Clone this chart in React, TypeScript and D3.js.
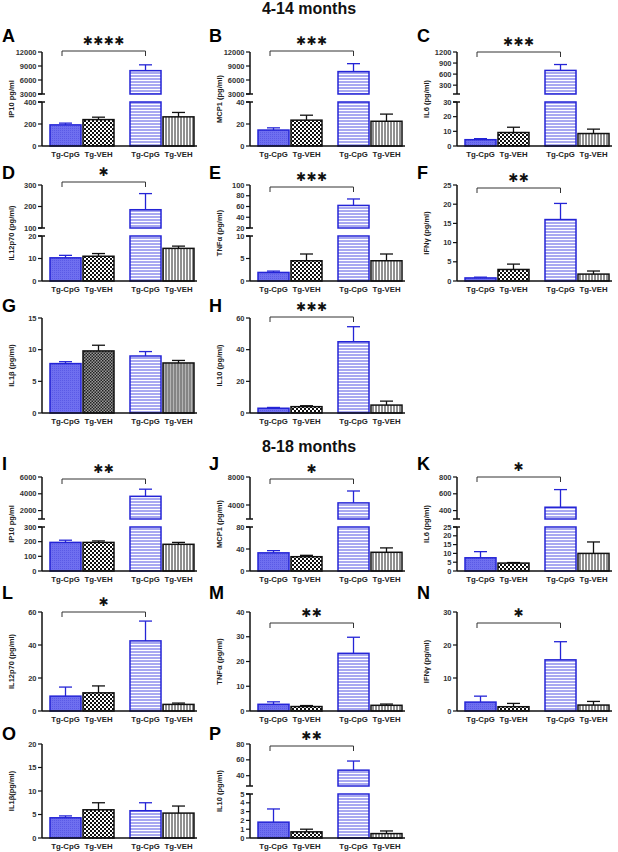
import React from 'react';
import * as d3 from 'd3';

const categories = ['Tg-CpG', 'Tg-VEH', 'Tg-CpG', 'Tg-VEH'];
const groups = ['young', 'old'];
const inner = ['cpg', 'veh'];
const titles = ['4-14 months', '8-18 months'];

// ---- 4-14 months (mean, upper error) ----
const ip10A = [192, 240, 8000, 265];
const ip10AErr = [208, 262, 9250, 305];
const mcp1B = [14.5, 23.5, 7800, 22.5];
const mcp1BErr = [16.5, 28, 9500, 29];
const il6C = [4.3, 9.2, 700, 8.5];
const il6CErr = [5, 12.8, 860, 11.5];
const il12D = [10.3, 11, 185, 14.5];
const il12DErr = [11.4, 12.2, 260, 15.5];
const tnfE = [1.9, 4.5, 62, 4.5];
const tnfEErr = [2.2, 6, 74, 6];
const ifnF = [0.8, 3, 16, 1.8];
const ifnFErr = [1, 4.4, 20.2, 2.6];
const il1G = [7.8, 9.8, 9.0, 7.9];
const il1GErr = [8.1, 10.7, 9.7, 8.3];
const il10H = [3, 4, 45, 5];
const il10HErr = [3.5, 4.6, 54.5, 7.5];

// ---- 8-18 months ----
const ip10I = [195, 195, 3700, 182];
const ip10IErr = [210, 205, 4550, 195];
const mcp1J = [33, 26, 4300, 34];
const mcp1JErr = [37, 28.5, 6000, 42];
const il6K = [7.5, 4.5, 440, 10];
const il6KErr = [11, 4.8, 650, 16.5];
const il12L = [9, 11, 42.5, 4];
const il12LErr = [14.5, 15.2, 54.5, 4.8];
const tnfM = [2.7, 1.8, 23.3, 2.3];
const tnfMErr = [3.7, 2.2, 29.8, 2.8];
const ifnN = [2.7, 1.3, 15.5, 1.8];
const ifnNErr = [4.5, 2.3, 21, 2.9];
const il1O = [4.3, 6, 5.8, 5.3];
const il1OErr = [4.7, 7.5, 7.5, 6.8];
const il10P = [1.8, 0.7, 47, 0.5];
const il10PErr = [3.3, 1.0, 58.5, 0.8];

// layout (pixels)
const rowTop = [52, 185, 318, 477, 612, 744];
const rowBottom = [146, 281, 413, 571, 711, 838];
const rowLetterY = [35, 172, 305, 463, 592, 733];
const colAxisX = [42, 250, 457];
const colLetterX = [2, 209, 417];
const titleY = [14, 452];

type Seg = { domain: number[]; ticks: number[] };
type P = {
  letter: string; row: number; col: number; label: string;
  means: number[]; errs: number[]; lower: Seg; upper?: Seg;
  stars?: string; bracketDy?: number; grey?: boolean;
};

const panels: P[] = [
  { letter: 'A', row: 0, col: 0, label: 'IP10 pg/ml', means: ip10A, errs: ip10AErr,
    lower: { domain: [0, 400], ticks: [0, 200, 400] }, upper: { domain: [3000, 12000], ticks: [3000, 6000, 9000, 12000] }, stars: '****', bracketDy: -1 },
  { letter: 'B', row: 0, col: 1, label: 'MCP1 (pg/ml)', means: mcp1B, errs: mcp1BErr,
    lower: { domain: [0, 40], ticks: [0, 20, 40] }, upper: { domain: [3000, 12000], ticks: [3000, 6000, 9000, 12000] }, stars: '***', bracketDy: -1 },
  { letter: 'C', row: 0, col: 2, label: 'IL6 (pg/ml)', means: il6C, errs: il6CErr,
    lower: { domain: [0, 30], ticks: [0, 10, 20, 30] }, upper: { domain: [60, 1200], ticks: [300, 600, 900, 1200] }, stars: '***', bracketDy: 0 },
  { letter: 'D', row: 1, col: 0, label: 'IL12p70 (pg/ml)', means: il12D, errs: il12DErr,
    lower: { domain: [0, 20], ticks: [0, 10, 20] }, upper: { domain: [100, 300], ticks: [100, 200, 300] }, stars: '*', bracketDy: -3 },
  { letter: 'E', row: 1, col: 1, label: 'TNFα (pg/ml)', means: tnfE, errs: tnfEErr,
    lower: { domain: [0, 10], ticks: [0, 5, 10] }, upper: { domain: [20, 100], ticks: [20, 40, 60, 80, 100] }, stars: '***', bracketDy: 2 },
  { letter: 'F', row: 1, col: 2, label: 'IFNγ (pg/ml)', means: ifnF, errs: ifnFErr,
    lower: { domain: [0, 25], ticks: [0, 5, 10, 15, 20, 25] }, stars: '**', bracketDy: 3 },
  { letter: 'G', row: 2, col: 0, label: 'IL1β (pg/ml)', means: il1G, errs: il1GErr,
    lower: { domain: [0, 15], ticks: [0, 5, 10, 15] }, grey: true },
  { letter: 'H', row: 2, col: 1, label: 'IL10 (pg/ml)', means: il10H, errs: il10HErr,
    lower: { domain: [0, 60], ticks: [0, 20, 40, 60] }, stars: '***', bracketDy: -1 },
  { letter: 'I', row: 3, col: 0, label: 'IP10 pg/ml', means: ip10I, errs: ip10IErr,
    lower: { domain: [0, 300], ticks: [0, 100, 200, 300] }, upper: { domain: [1000, 6000], ticks: [2000, 4000, 6000] }, stars: '**', bracketDy: 2 },
  { letter: 'J', row: 3, col: 1, label: 'MCP1 (pg/ml)', means: mcp1J, errs: mcp1JErr,
    lower: { domain: [0, 80], ticks: [0, 40, 80] }, upper: { domain: [2000, 8000], ticks: [4000, 8000] }, stars: '*', bracketDy: 2 },
  { letter: 'K', row: 3, col: 2, label: 'IL6 (pg/ml)', means: il6K, errs: il6KErr,
    lower: { domain: [0, 25], ticks: [0, 5, 10, 15, 20, 25] }, upper: { domain: [300, 800], ticks: [400, 600, 800] }, stars: '*', bracketDy: 0 },
  { letter: 'L', row: 4, col: 0, label: 'IL12p70 (pg/ml)', means: il12L, errs: il12LErr,
    lower: { domain: [0, 60], ticks: [0, 20, 40, 60] }, stars: '*', bracketDy: 0 },
  { letter: 'M', row: 4, col: 1, label: 'TNFα (pg/ml)', means: tnfM, errs: tnfMErr,
    lower: { domain: [0, 40], ticks: [0, 10, 20, 30, 40] }, stars: '**', bracketDy: 11 },
  { letter: 'N', row: 4, col: 2, label: 'IFNγ (pg/ml)', means: ifnN, errs: ifnNErr,
    lower: { domain: [0, 30], ticks: [0, 10, 20, 30] }, stars: '*', bracketDy: 11 },
  { letter: 'O', row: 5, col: 0, label: 'IL1β(pg/ml)', means: il1O, errs: il1OErr,
    lower: { domain: [0, 20], ticks: [0, 5, 10, 15, 20] } },
  { letter: 'P', row: 5, col: 1, label: 'IL10 (pg/ml)', means: il10P, errs: il10PErr,
    lower: { domain: [0, 5], ticks: [0, 1, 2, 3, 4, 5] }, upper: { domain: [27, 80], ticks: [40, 60, 80] }, stars: '**', bracketDy: 2 },
];

const FONT = '"Liberation Sans", Arial, sans-serif';
const BLUE = '#2424d6';
const BLACK = '#111111';

function Panel({ p }: { p: P }) {
  const ax = colAxisX[p.col];
  const top = rowTop[p.row];
  const bottom = rowBottom[p.row];
  const H = bottom - top;
  type S = { scale: d3.ScaleLinear<number, number>; seg: Seg; upper: boolean };
  const segs: S[] = [];
  if (p.upper) {
    const upH = Math.round(H * 0.45);
    segs.push({ scale: d3.scaleLinear().domain(p.lower.domain).range([bottom, top + upH + 8]), seg: p.lower, upper: false });
    segs.push({ scale: d3.scaleLinear().domain(p.upper.domain).range([top + upH, top]), seg: p.upper, upper: true });
  } else {
    segs.push({ scale: d3.scaleLinear().domain(p.lower.domain).range([bottom, top]), seg: p.lower, upper: false });
  }
  const segFor = (v: number) => (segs.length > 1 && v > p.lower.domain[1] ? segs[1] : segs[0]);

  const gx = d3.scaleBand<string>().domain(groups).range([ax + 8, ax + 152]).paddingInner(0.2).paddingOuter(0);
  const bx = d3.scaleBand<string>().domain(inner).range([0, gx.bandwidth()]).paddingInner(0.06);
  const bw = bx.bandwidth();
  const barX = (i: number) => (gx(groups[Math.floor(i / 2)]) as number) + (bx(inner[i % 2]) as number);

  const fills = p.grey
    ? ['url(#pBlue)', 'url(#pCheckDark)', 'url(#pHStripe)', 'url(#pVStripeGrey)']
    : ['url(#pBlue)', 'url(#pCheck)', 'url(#pHStripe)', 'url(#pVStripe)'];
  const strokes = [BLUE, BLACK, BLUE, BLACK];

  const bracketY = top + (p.bracketDy ?? 0);
  const bx1 = barX(0) + 12;
  const bx2 = barX(2) + bw / 2;

  return (
    <g>
      <text x={colLetterX[p.col]} y={rowLetterY[p.row] + 6.5} fontFamily={FONT} fontWeight="bold" fontSize={18}>{p.letter}</text>
      <text transform={`translate(${ax - 30},${(top + bottom) / 2}) rotate(-90)`} textAnchor="middle" dominantBaseline="middle"
        fontFamily={FONT} fontWeight="bold" fontSize={7.5} fill="#222">{p.label}</text>
      {/* bars */}
      {p.means.map((v, i) => (
        <g key={'b' + i}>
          {segs.map((s, k) => {
            const d0 = s.seg.domain[0];
            if (v <= d0) return null;
            const y0 = s.scale(d0);
            const y1 = s.scale(Math.min(v, s.seg.domain[1]));
            return <rect key={k} x={barX(i)} y={y1} width={bw} height={y0 - y1} fill={fills[i]} stroke={strokes[i]} strokeWidth={1.5} />;
          })}
        </g>
      ))}
      {/* error bars */}
      {p.means.map((v, i) => {
        const e = p.errs[i];
        const sv = segFor(v);
        const se = segFor(e);
        const cx = barX(i) + bw / 2;
        const y1 = sv.scale(v);
        const y2 = se.scale(e);
        return (
          <g key={'e' + i} stroke={strokes[i]} strokeWidth={1.3}>
            <line x1={cx} x2={cx} y1={y1} y2={y2} />
            <line x1={cx - 6.5} x2={cx + 6.5} y1={y2} y2={y2} />
          </g>
        );
      })}
      {/* y axis */}
      {segs.map((s, k) => {
        const r = s.scale.range();
        return (
          <g key={'ax' + k}>
            <line x1={ax} x2={ax} y1={r[0]} y2={r[1]} stroke={BLACK} strokeWidth={1.5} />
            {segs.length > 1 && (
              <line x1={ax - 4} x2={ax + 3} y1={s.upper ? r[0] : r[1]} y2={s.upper ? r[0] : r[1]} stroke={BLACK} strokeWidth={1.5} />
            )}
            {s.seg.ticks.map((t) => (
              <g key={t}>
                <line x1={ax - 4} x2={ax} y1={s.scale(t)} y2={s.scale(t)} stroke={BLACK} strokeWidth={1.2} />
                <text x={ax - 5.5} y={s.scale(t)} textAnchor="end" dominantBaseline="central" fontFamily={FONT} fontWeight="bold" fontSize={7.5} fill="#333">{String(t)}</text>
              </g>
            ))}
          </g>
        );
      })}
      {/* x axis */}
      <line x1={ax} x2={ax + 155} y1={bottom} y2={bottom} stroke={BLACK} strokeWidth={1.5} />
      {categories.map((c, i) => (
        <text key={'c' + i} x={barX(i) + bw / 2} y={bottom + 10.5} textAnchor="middle" fontFamily={FONT} fontWeight="bold" fontSize={7.8} fill="#222">{c}</text>
      ))}
      {/* significance */}
      {p.stars && (
        <g>
          <path d={`M${bx1},${bracketY + 5}V${bracketY}H${bx2}V${bracketY + 5}`} fill="none" stroke="#333" strokeWidth={1} />
          <text x={(bx1 + bx2) / 2} y={bracketY - 10} textAnchor="middle" dominantBaseline="central" fontFamily='"DejaVu Sans", sans-serif'
            fontSize={12} letterSpacing={0.5} fill="#111">{p.stars.replace(/\*/g, '✱')}</text>
        </g>
      )}
    </g>
  );
}

export default function App() {
  return (
    <svg width={618} height={852} style={{ position: 'absolute', left: 0, top: 0, background: '#fff' }}>
      <defs>
        <pattern id="pBlue" width={2} height={2} patternUnits="userSpaceOnUse">
          <rect width={2} height={2} fill="#6f6ff0" />
          <rect width={1} height={1} fill="#5a5ae6" />
        </pattern>
        <pattern id="pCheck" width={4} height={4} patternUnits="userSpaceOnUse">
          <rect width={4} height={4} fill="#ffffff" />
          <rect width={2} height={2} fill="#111" />
          <rect x={2} y={2} width={2} height={2} fill="#111" />
        </pattern>
        <pattern id="pCheckDark" width={3} height={3} patternUnits="userSpaceOnUse">
          <rect width={3} height={3} fill="#9a9a9a" />
          <rect width={1.5} height={1.5} fill="#222" />
          <rect x={1.5} y={1.5} width={1.5} height={1.5} fill="#222" />
        </pattern>
        <pattern id="pHStripe" width={4} height={3} patternUnits="userSpaceOnUse">
          <rect width={4} height={3} fill="#ffffff" />
          <line x1={0} x2={4} y1={1} y2={1} stroke="#5252e4" strokeWidth={1} />
        </pattern>
        <pattern id="pVStripe" width={3} height={4} patternUnits="userSpaceOnUse">
          <rect width={3} height={4} fill="#ffffff" />
          <line x1={1} x2={1} y1={0} y2={4} stroke="#222" strokeWidth={1} />
        </pattern>
        <pattern id="pVStripeGrey" width={3} height={4} patternUnits="userSpaceOnUse">
          <rect width={3} height={4} fill="#b4b4b4" />
          <line x1={1} x2={1} y1={0} y2={4} stroke="#555" strokeWidth={1} />
        </pattern>
      </defs>
      <rect width={618} height={852} fill="#fff" />
      {titles.map((t, i) => (
        <text key={t} x={309} y={titleY[i]} textAnchor="middle" fontFamily={FONT} fontWeight="bold" fontSize={16} fill="#111">{t}</text>
      ))}
      {panels.map((p) => <Panel key={p.letter} p={p} />)}
    </svg>
  );
}
